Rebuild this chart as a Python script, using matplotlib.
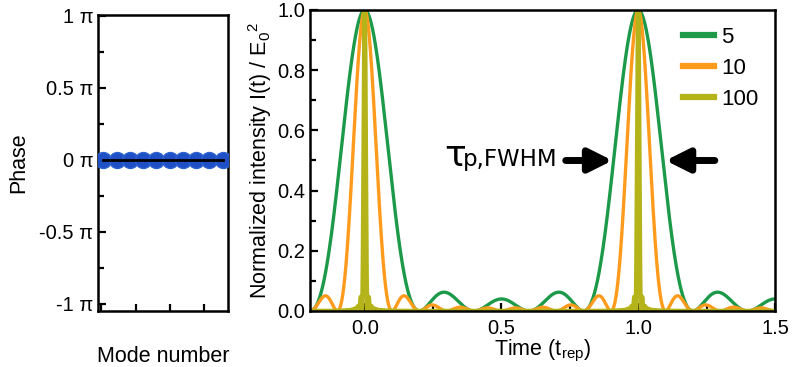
import numpy as np
import matplotlib
matplotlib.use("Agg")
import matplotlib.pyplot as plt
from matplotlib.ticker import MultipleLocator, FixedLocator, FormatStrFormatter

plt.rcParams['font.family'] = ['Liberation Sans', 'DejaVu Sans']
plt.rcParams['mathtext.fontset'] = 'custom'
plt.rcParams['mathtext.rm'] = 'Liberation Sans'
plt.rcParams['mathtext.it'] = 'Liberation Sans:italic'

# ---- data ----
mode_index = list(range(10))                 # modes shown in left panel
mode_phase = [0, 0, 0, 0, 0, 0, 0, 0, 0, 0]  # phase in units of pi (flat / mode-locked)
phase_ticks = [1, 0.5, 0, -0.5, -1]
phase_tick_labels = ['1 π', '0.5 π', '0 π', '-0.5 π', '-1 π']
mode_counts = [5, 10, 100]                   # number of locked modes per curve
mode_labels = ['5', '10', '100']
series_colors = ['#1c9a4a', '#ff9b1c', '#b4b41a']
time_range = (-0.2, 1.5)                     # in units of t_rep

TICK_FS = 14.5
LABEL_FS = 15.5

fig = plt.figure(figsize=(7.99, 3.67), dpi=100)
W, H = 799, 367

def ax_rect(l, t, r, b):
    return [l / W, 1 - b / H, (r - l) / W, (b - t) / H]

# ---- left panel: phases ----
axL = fig.add_axes(ax_rect(98, 15, 228, 311))
axL.plot(mode_index, mode_phase, 'o', ms=11.5, color='#1f4fc4',
         mec='#2d62d2', mew=1.0, zorder=3)
axL.plot(mode_index, mode_phase, '-', color='black', lw=2, zorder=4)
axL.set_ylim(-1.05, 1.005)
axL.set_xlim(-0.4, 9.4)
axL.set_yticks(phase_ticks)
axL.set_yticklabels(phase_tick_labels)
axL.yaxis.set_minor_locator(MultipleLocator(0.25))
axL.xaxis.set_major_locator(FixedLocator([-0.15, 2.5, 5.05, 7.6]))
axL.set_xticklabels([])
axL.set_ylabel('Phase', fontsize=LABEL_FS, labelpad=7)
axL.set_xlabel('Mode number', fontsize=LABEL_FS, labelpad=22)

# ---- right panel: intensity ----
axR = fig.add_axes(ax_rect(310, 10, 775, 311))
t = np.linspace(time_range[0], time_range[1], 40001)
for N, lab, col in zip(mode_counts, mode_labels, series_colors):
    phases = np.zeros(N)  # all modes in phase
    n = np.arange(N)
    field = np.exp(1j * (2 * np.pi * np.outer(t, n) + np.pi * phases)).sum(axis=1)
    intensity = np.abs(field) ** 2 / N ** 2
    axR.plot(t, intensity, color=col, lw=2.4 if N < 100 else 3.2, label=lab)

axR.set_xlim(*time_range)
axR.set_ylim(0, 1.0)
axR.xaxis.set_major_locator(MultipleLocator(0.5))
axR.xaxis.set_minor_locator(MultipleLocator(0.25))
axR.yaxis.set_major_locator(MultipleLocator(0.2))
axR.yaxis.set_minor_locator(MultipleLocator(0.1))
axR.xaxis.set_major_formatter(FormatStrFormatter('%.1f'))
axR.yaxis.set_major_formatter(FormatStrFormatter('%.1f'))
axR.set_ylabel('Normalized intensity I(t) / E$_0$$^2$', fontsize=LABEL_FS, labelpad=2)
axR.set_xlabel('Time (t$_{\\mathrm{rep}}$)', fontsize=LABEL_FS, labelpad=0)

leg = axR.legend(loc='upper right', frameon=False, fontsize=16,
                 handlelength=1.4, handletextpad=0.3, labelspacing=0.45,
                 borderaxespad=0.45, borderpad=0.3)
for h in leg.get_lines():
    h.set_linewidth(4.5)

# FWHM annotation
axR.text(0.289, 0.482, 'τ', transform=axR.transAxes, fontsize=26,
         family='DejaVu Sans', ha='left', va='baseline')
axR.text(0.329, 0.482, 'p,FWHM', transform=axR.transAxes, fontsize=16.5,
         family='DejaVu Sans', ha='left', va='baseline')
arrow_kw = dict(arrowstyle='-|>,head_length=1.0,head_width=0.5', lw=5,
                color='black', shrinkA=0, shrinkB=0, mutation_scale=14)
axR.annotate('', xy=(0.906, 0.5), xytext=(0.735, 0.5), arrowprops=arrow_kw)
axR.annotate('', xy=(1.10, 0.5), xytext=(1.28, 0.5), arrowprops=arrow_kw)

for ax in (axL, axR):
    for s in ax.spines.values():
        s.set_linewidth(1.8)
    ax.tick_params(which='both', direction='in', labelsize=TICK_FS, width=1.6)
    ax.tick_params(which='major', length=6)
    ax.tick_params(which='minor', length=4)
axL.tick_params(axis='x', which='major', length=5)
axR.tick_params(axis='x', which='major', pad=6)

fig.savefig('out.png', dpi=100)
